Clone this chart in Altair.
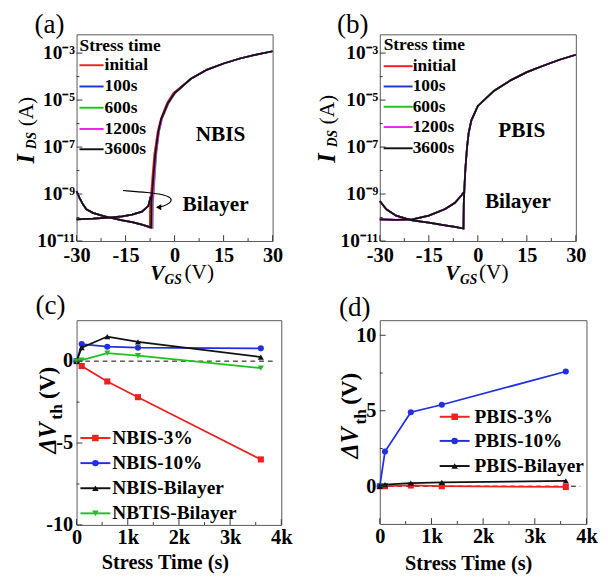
import altair as alt
import pandas as pd

FONT = "Liberation Serif"
RED, BLUE, GREEN, MAGENTA, BLACK = "#ee2020", "#2030e0", "#20c020", "#ee20ee", "#111111"

STRESS = ["initial", "100s", "600s", "1200s", "3600s"]
STRESS_COLORS = [RED, BLUE, GREEN, MAGENTA, BLACK]

# ---------------- (a) NBIS transfer curves (log10 of I_DS) ----------------
a_off_vgs = [-30, -29, -28, -27, -25, -22, -19, -16, -13, -10]
a_off_log = [-8.88, -9.2, -9.45, -9.65, -9.8, -9.93, -10.03, -10.12, -10.2, -10.3]
a_on_log = [-10.43, -9.3, -9.0, -8.1, -7.3, -6.35, -5.8, -5.12, -4.7]
a_on_vgs = {
    "initial": [-7.6, -7.5, -7.2, -6.7, -6.2, -5.2, -4.2, -2.3, -0.4],
    "100s": [-7.0, -6.9, -6.7, -6.3, -5.8, -4.9, -4.0, -2.0, 0.0],
    "600s": [-6.7, -6.6, -6.4, -6.0, -5.6, -4.8, -3.9, -1.8, 0.2],
    "1200s": [-6.9, -6.8, -6.5, -6.1, -5.7, -4.8, -3.9, -1.9, 0.1],
    "3600s": [-7.2, -7.1, -6.9, -6.4, -5.9, -5.0, -4.1, -2.0, 0.0],
}
a_hi_vgs = [5, 10, 15, 20, 25, 30]
a_hi_log = [-4.09, -3.7, -3.44, -3.23, -3.06, -2.92]
a_ret_vgs = [-7.3, -8, -10, -13, -16, -20, -25, -30]
a_ret_log = [-9.1, -9.5, -9.75, -9.88, -9.95, -10.0, -10.05, -10.08]
arrow_vgs = [-15.8, -8, -3, -0.6, -1.5, -3.5, -4.9]
arrow_log = [-8.85, -8.93, -9.03, -9.2, -9.4, -9.52, -9.56]

# ---------------- (b) PBIS transfer curves (all stress times overlap) ----------------
b_fwd_vgs = [-30, -28, -25, -22, -20, -15, -10, -7, -4.4, -4.3, -4.1, -3.8, -3.3, -2.8, -2, 0, 5, 10, 15, 20, 25, 30]
b_fwd_log = [-9.3, -9.65, -9.92, -10.05, -10.12, -10.22, -10.33, -10.4, -10.47, -9.4, -8.7, -7.9, -7.0, -6.4,
             -5.87, -5.25, -4.6, -4.16, -3.81, -3.54, -3.28, -3.07]
b_ret_vgs = [-4.2, -5, -7, -10, -15, -20, -25, -30]
b_ret_log = [-8.9, -9.05, -9.37, -9.64, -9.92, -10.08, -10.1, -10.08]

IV_X_TICKS = [-30, -15, 0, 15, 30]
IV_X_MINOR = [-22.5, -7.5, 7.5, 22.5]
IV_Y_TICKS = [-11, -9, -7, -5, -3]
IV_Y_MINOR = [-10, -8, -6, -4]
IV_Y_LABELS = ["10⁻¹¹", "10⁻⁹", "10⁻⁷", "10⁻⁵", "10⁻³"]

# ---------------- (c) NBIS dVth ----------------
t_stress = [0, 100, 600, 1200, 3600]
c_names = ["NBIS-3%", "NBIS-10%", "NBIS-Bilayer", "NBTIS-Bilayer"]
c_values = [
    [0, -0.3, -1.24, -2.2, -6.0],
    [0, 1.04, 0.88, 0.82, 0.78],
    [0, 0.82, 1.5, 1.18, 0.25],
    [0, 0.06, 0.49, 0.33, -0.43],
]
c_colors = [RED, BLUE, BLACK, GREEN]
c_shapes = ["square", "circle", "triangle-up", "triangle-down"]

# ---------------- (d) PBIS dVth ----------------
d_names = ["PBIS-3%", "PBIS-10%", "PBIS-Bilayer"]
d_values = [
    [0, 0.0, 0.05, 0.0, -0.05],
    [0, 2.3, 4.9, 5.4, 7.6],
    [0, 0.1, 0.2, 0.25, 0.35],
]
d_colors = [RED, BLUE, BLACK]
d_shapes = ["square", "circle", "triangle-up"]

zero_t = [0, 3880]
zero_v = [0, 0]
T_TICKS = [0, 1000, 2000, 3000, 4000]
T_MINOR = [500, 1500, 2500, 3500]


def one(s=""):
    return alt.Data(values=[{"t": s}])


def text(s, x, y, size, weight="bold", style="normal", angle=0, align="center"):
    kw = dict(x=x, y=y, fontSize=size, fontWeight=weight, fontStyle=style, align=align,
              baseline="middle", font=FONT, color="black")
    if angle:
        kw["angle"] = angle
    return alt.Chart(one(s)).mark_text(**kw).encode(text="t:N")


def lrule(x0, x1, y, color, w=2):
    return alt.Chart(one()).mark_rule(color=color, strokeWidth=w).encode(
        x=alt.value(x0), x2=alt.value(x1), y=alt.value(y))


def lpoint(x, y, color, shape, size=45):
    return alt.Chart(one()).mark_point(filled=True, opacity=1, color=color, shape=shape, size=size).encode(
        x=alt.value(x), y=alt.value(y))


def ticks(vals, enc, axis, H, L):
    df = pd.DataFrame({"v": vals})
    base = alt.Chart(df).mark_rule(color="#333", strokeWidth=1)
    if axis == "x":
        return base.encode(x=enc("v"), y=alt.value(H), y2=alt.value(H - L))
    return base.encode(y=enc("v"), x=alt.value(0), x2=alt.value(L))


def iv_x(field):
    return alt.X(f"{field}:Q", scale=alt.Scale(domain=[-30, 30], nice=False, zero=False),
                 axis=alt.Axis(values=IV_X_TICKS, title=None, labelExpr="'' + datum.value",
                               labelPadding=4, labelFlush=False, labelOverlap=False, labelFontSize=21))


ylab_expr = " : ".join(f"datum.value == {v} ? '{s}'" for v, s in zip(IV_Y_TICKS, IV_Y_LABELS)) + " : ''"


def iv_y(field):
    return alt.Y(f"{field}:Q", scale=alt.Scale(domain=[-11, -2.2], nice=False, zero=False),
                 axis=alt.Axis(values=IV_Y_TICKS, title=None, labelExpr=ylab_expr,
                               labelPadding=2, labelFlush=False, labelOverlap=False, labelFontSize=20))


def iv_panel(series_rows, W, H, tag, stress_label, bilayer_xy, name_xy, legend, titles, arrow=False):
    layers = []
    for s, c in zip(STRESS, STRESS_COLORS):
        df = series_rows(s)
        layers.append(alt.Chart(df).mark_line(color=c, strokeWidth=1.8).encode(
            x=iv_x("VGS"), y=iv_y("logI"), detail="seg:N", order="i:Q"))
    layers.append(ticks(IV_X_TICKS, iv_x, "x", H, 6))
    layers.append(ticks(IV_X_MINOR, iv_x, "x", H, 3))
    layers.append(ticks(IV_Y_TICKS, iv_y, "y", H, 6))
    layers.append(ticks(IV_Y_MINOR, iv_y, "y", H, 3))
    if arrow:
        adf = pd.DataFrame({"VGS": arrow_vgs, "logI": arrow_log, "i": list(range(len(arrow_vgs)))})
        layers.append(alt.Chart(adf).mark_line(color="black", strokeWidth=1.2, interpolate="basis").encode(
            x=iv_x("VGS"), y=iv_y("logI"), order="i:Q"))
        hdf = pd.DataFrame({"VGS": arrow_vgs[-1:], "logI": arrow_log[-1:]})
        layers.append(alt.Chart(hdf).mark_point(shape="triangle-left", filled=True, opacity=1,
                                                 color="black", size=40).encode(
            x=iv_x("VGS"), y=iv_y("logI")))
    # legend
    lx0, lx1, ltx, title_xy, rows = legend
    layers.append(text("Stress time", title_xy[0], title_xy[1], 18, align="left"))
    for s, c, yy in zip(STRESS, STRESS_COLORS, rows):
        layers.append(lrule(lx0, lx1, yy, c))
        layers.append(text(s, ltx, yy, 18, align="left"))
    layers.append(text(stress_label, name_xy[0], name_xy[1], 22))
    layers.append(text("Bilayer", bilayer_xy[0], bilayer_xy[1], 22))
    layers.append(text(tag, -28, -9, 28, weight="normal"))
    # axis titles
    (ix, iy), (dx, dy), (ax, ay), (vx, vy), (gx, gy), (px, py) = titles
    layers.append(text("I", ix, iy, 25, style="italic", angle=270))
    layers.append(text("DS", dx, dy, 14, style="italic", angle=270))
    layers.append(text("(A)", ax, ay, 22, weight="normal", angle=270))
    layers.append(text("V", vx, vy, 22, style="italic"))
    layers.append(text("GS", gx, gy, 14, style="italic"))
    layers.append(text("(V)", px, py, 22, weight="normal"))
    return alt.layer(*layers).properties(width=W, height=H)


def a_rows(s):
    fwd_v = a_off_vgs + a_on_vgs[s] + a_hi_vgs
    fwd_l = a_off_log + a_on_log + a_hi_log
    rows = [{"VGS": v, "logI": l, "seg": "fwd", "i": k} for k, (v, l) in enumerate(zip(fwd_v, fwd_l))]
    rows += [{"VGS": v, "logI": l, "seg": "ret", "i": k} for k, (v, l) in enumerate(zip(a_ret_vgs, a_ret_log))]
    return pd.DataFrame(rows)


def b_rows(s):
    rows = [{"VGS": v, "logI": l, "seg": "fwd", "i": k} for k, (v, l) in enumerate(zip(b_fwd_vgs, b_fwd_log))]
    rows += [{"VGS": v, "logI": l, "seg": "ret", "i": k} for k, (v, l) in enumerate(zip(b_ret_vgs, b_ret_log))]
    return pd.DataFrame(rows)


panel_a = iv_panel(a_rows, 203, 214, "(a)", "NBIS", (144, 176), (149, 103),
                   (3, 28, 29, (3, 12), [32, 54, 76, 98, 119]),
                   [(-52, 129), (-46, 110), (-52, 80), (83.5, 247), (100, 255), (127, 246)], arrow=True)
panel_b = iv_panel(b_rows, 203, 214, "(b)", "PBIS", (143, 173), (147, 99),
                   (4, 34, 34, (4, 11), [33, 54, 75, 96, 118]),
                   [(-54, 128), (-48, 108), (-54, 78), (75, 247), (92, 255), (118, 246)])


def dv_x(field):
    return alt.X(f"{field}:Q", scale=alt.Scale(domain=[0, 4000], nice=False),
                 axis=alt.Axis(values=T_TICKS, title=None,
                               labelExpr="datum.value == 0 ? '0' : (datum.value / 1000) + 'k'",
                               labelPadding=2, labelFlush=False, labelOverlap=False, labelFontSize=21))


def make_dv_y(domain, vals):
    def f(field):
        return alt.Y(f"{field}:Q", scale=alt.Scale(domain=domain, nice=False, zero=False),
                     axis=alt.Axis(values=vals, title=None, labelExpr="'' + datum.value",
                                   labelPadding=4, labelFlush=False, labelOverlap=False, labelFontSize=21))
    return f


def dv_panel(names, values, colors, shapes, W, H, domain, yt, ymin, tag, tag_xy, leg, titles):
    dv_y = make_dv_y(domain, yt)
    layers = []
    zdf = pd.DataFrame({"t": zero_t, "v": zero_v})
    layers.append(alt.Chart(zdf).mark_line(color="black", strokeWidth=1, strokeDash=[5, 4]).encode(
        x=dv_x("t"), y=dv_y("v")))
    for n, vals, c, sh in zip(names, values, colors, shapes):
        df = pd.DataFrame({"t": t_stress, "v": vals})
        layers.append(alt.Chart(df).mark_line(
            color=c, strokeWidth=1.8,
            point=alt.OverlayMarkDef(shape=sh, filled=True, size=40, color=c, opacity=1)).encode(
            x=dv_x("t"), y=dv_y("v")))
    layers.append(ticks(T_TICKS, dv_x, "x", H, 6))
    layers.append(ticks(T_MINOR, dv_x, "x", H, 3))
    layers.append(ticks(yt, dv_y, "y", H, 6))
    layers.append(ticks(ymin, dv_y, "y", H, 3))
    lx0, lx1, ltx, rows = leg
    for n, c, sh, yy in zip(names, colors, shapes, rows):
        layers.append(lrule(lx0, lx1, yy, c))
        layers.append(lpoint((lx0 + lx1) / 2, yy, c, sh))
        layers.append(text(n, ltx, yy, 20, align="left"))
    layers.append(text(tag, tag_xy[0], tag_xy[1], 28, weight="normal"))
    (dvx, dvy), (thx, thy), (pvx, pvy), (stx, sty) = titles
    layers.append(text("ΔV", dvx, dvy, 25, style="italic", angle=270))
    layers.append(text("th", thx, thy, 18, angle=270))
    layers.append(text("(V)", pvx, pvy, 24, angle=270))
    layers.append(text("Stress Time (s)", stx, sty, 21))
    return alt.layer(*layers).properties(width=W, height=H)


panel_c = dv_panel(c_names, c_values, c_colors, c_shapes, 212, 212, [-10, 2.5], [-10, -5, 0], [-7.5, -2.5],
                   "(c)", (-27, -14), (4, 35, 37, [122, 148, 174, 200]),
                   [(-29, 122), (-20, 95), (-29, 65), (92, 252)])
panel_d = dv_panel(d_names, d_values, d_colors, d_shapes, 214, 211, [-2.5, 11], [0, 5, 10], [2.5, 7.5],
                   "(d)", (-26, -12), (62, 93, 98, [100, 125, 151]),
                   [(-31, 127), (-19, 100), (-31, 71), (92, 253)])

chart = alt.concat(panel_a, panel_b, panel_c, panel_d, columns=2,
                   spacing=alt.RowColnumber(row=82, column=102), bounds="flush").properties(
    padding={"left": 6, "top": -7, "right": 2, "bottom": 2}
).configure_view(stroke="#555", strokeWidth=1).configure_axis(
    domain=False, ticks=False, grid=False, labelFont=FONT, labelFontWeight="bold", labelColor="black"
)

chart.save("out.html", embed_options={"renderer": "svg", "actions": False})
